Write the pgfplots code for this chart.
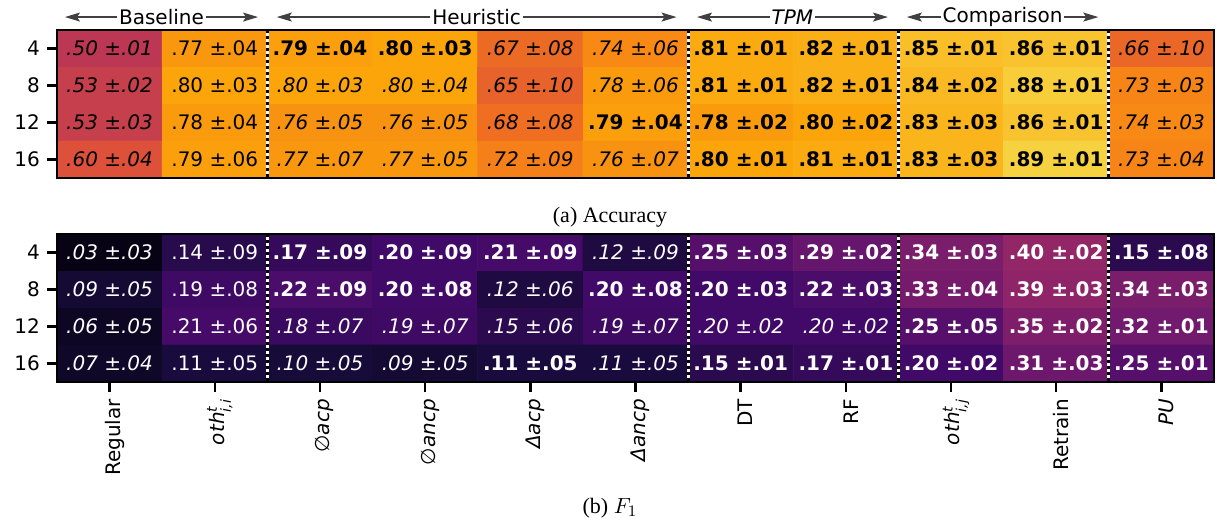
\documentclass[border=0pt]{standalone}
\usepackage{pgfplots}
\pgfplotsset{compat=1.18}
\usepackage{fontspec}
\setmainfont{DejaVu Sans}
\newfontfamily\capfont{Liberation Serif}
\usetikzlibrary{arrows.meta}

\newcommand{\cb}[2]{\textbf{#1 ±#2}}
\newcommand{\ci}[2]{\textit{#1 ±#2}}
\newcommand{\cn}[2]{#1 ±#2}

\tikzset{hdr/.style={{Stealth[length=7.5pt,width=4.5pt,inset=1.5pt]}-{Stealth[length=7.5pt,width=4.5pt,inset=1.5pt]},
    draw=black!75, line width=0.6pt}}

\pgfplotsset{
  colormap={inferno}{rgb255(0cm)=(0,0,4) rgb255(1cm)=(22,11,57) rgb255(2cm)=(66,10,104)
    rgb255(3cm)=(106,23,110) rgb255(4cm)=(147,38,103) rgb255(5cm)=(188,55,84)
    rgb255(6cm)=(221,81,58) rgb255(7cm)=(243,118,27) rgb255(8cm)=(252,165,10)
    rgb255(9cm)=(246,215,70) rgb255(10cm)=(252,255,164)},
  hm/.style={
    scale only axis, width=578.5pt, height=74pt,
    xmin=-0.5, xmax=10.5, ymin=-0.5, ymax=3.5, y dir=reverse,
    enlargelimits=false, axis on top, clip=false,
    colormap name=inferno, point meta min=0, point meta max=1,
    axis line style={line width=1.3pt},
    ytick={0,1,2,3}, yticklabels={4,8,12,16},
    tick align=outside, major tick length=5pt,
    tick style={line width=1.2pt, black},
    ytick pos=left, xtick pos=bottom,
    ticklabel style={font=\fontsize{10}{12}\selectfont},
  },
  cellsbase/.style={draw=none, mark=none, point meta=explicit symbolic, nodes near coords,
    nodes near coords style={anchor=center, inner sep=0pt, font=\fontsize{10}{12}\selectfont}},
}

\begin{document}
\begin{tikzpicture}
\useasboundingbox (-28.5pt,15pt) rectangle (580pt,-245.5pt);

% ---------------- Accuracy ----------------
\begin{axis}[hm, at={(0,0)}, anchor=north west, xtick=\empty]
\addplot[matrix plot*, mesh/cols=11, point meta=explicit] coordinates {
(0,0) [0.50] (1,0) [0.77] (2,0) [0.79] (3,0) [0.80] (4,0) [0.67] (5,0) [0.74] (6,0) [0.81] (7,0) [0.82] (8,0) [0.85] (9,0) [0.86] (10,0) [0.66]

(0,1) [0.53] (1,1) [0.80] (2,1) [0.80] (3,1) [0.80] (4,1) [0.65] (5,1) [0.78] (6,1) [0.81] (7,1) [0.82] (8,1) [0.84] (9,1) [0.88] (10,1) [0.73]

(0,2) [0.53] (1,2) [0.78] (2,2) [0.76] (3,2) [0.76] (4,2) [0.68] (5,2) [0.79] (6,2) [0.78] (7,2) [0.80] (8,2) [0.83] (9,2) [0.86] (10,2) [0.74]

(0,3) [0.60] (1,3) [0.79] (2,3) [0.77] (3,3) [0.77] (4,3) [0.72] (5,3) [0.76] (6,3) [0.80] (7,3) [0.81] (8,3) [0.83] (9,3) [0.89] (10,3) [0.73]
};
\pgfplotsinvokeforeach{1.5,5.5,7.5,9.5}{
  \draw[white, line width=1.5pt] (axis cs:#1,-0.5) -- (axis cs:#1,3.5);
  \draw[black, line width=1.5pt, dash pattern=on 1.5pt off 1.5pt] (axis cs:#1,-0.5) -- (axis cs:#1,3.5);
}
\addplot[cellsbase, nodes near coords style={text=black}] coordinates {
(0,0)[\ci{.50}{.01}] (1,0)[\cn{.77}{.04}] (2,0)[\cb{.79}{.04}] (3,0)[\cb{.80}{.03}] (4,0)[\ci{.67}{.08}] (5,0)[\ci{.74}{.06}] (6,0)[\cb{.81}{.01}] (7,0)[\cb{.82}{.01}] (8,0)[\cb{.85}{.01}] (9,0)[\cb{.86}{.01}] (10,0)[\ci{.66}{.10}]
(0,1)[\ci{.53}{.02}] (1,1)[\cn{.80}{.03}] (2,1)[\ci{.80}{.03}] (3,1)[\ci{.80}{.04}] (4,1)[\ci{.65}{.10}] (5,1)[\ci{.78}{.06}] (6,1)[\cb{.81}{.01}] (7,1)[\cb{.82}{.01}] (8,1)[\cb{.84}{.02}] (9,1)[\cb{.88}{.01}] (10,1)[\ci{.73}{.03}]
(0,2)[\ci{.53}{.03}] (1,2)[\cn{.78}{.04}] (2,2)[\ci{.76}{.05}] (3,2)[\ci{.76}{.05}] (4,2)[\ci{.68}{.08}] (5,2)[\cb{.79}{.04}] (6,2)[\cb{.78}{.02}] (7,2)[\cb{.80}{.02}] (8,2)[\cb{.83}{.03}] (9,2)[\cb{.86}{.01}] (10,2)[\ci{.74}{.03}]
(0,3)[\ci{.60}{.04}] (1,3)[\cn{.79}{.06}] (2,3)[\ci{.77}{.07}] (3,3)[\ci{.77}{.05}] (4,3)[\ci{.72}{.09}] (5,3)[\ci{.76}{.07}] (6,3)[\cb{.80}{.01}] (7,3)[\cb{.81}{.01}] (8,3)[\cb{.83}{.03}] (9,3)[\cb{.89}{.01}] (10,3)[\ci{.73}{.04}]
};
\draw[hdr] (axis cs:-0.424,-0.85) -- node[fill=white, inner sep=1pt, font=\fontsize{10}{12}\selectfont]{Baseline} (axis cs:1.411,-0.85);
\draw[hdr] (axis cs:1.59,-0.85) -- node[fill=white, inner sep=1pt, font=\fontsize{10}{12}\selectfont]{Heuristic} (axis cs:5.39,-0.85);
\draw[hdr] (axis cs:5.585,-0.85) -- node[fill=white, inner sep=1pt, font=\fontsize{10}{12}\selectfont\itshape]{TPM} (axis cs:7.40,-0.85);
\draw[hdr] (axis cs:7.58,-0.85) -- node[fill=white, inner sep=1pt, font=\fontsize{10}{12}\selectfont]{Comparison} (axis cs:9.40,-0.85);
\end{axis}

% ---------------- F1 ----------------
\begin{axis}[hm, at={(0,-102pt)}, anchor=north west,
  xtick={0,...,10},
  xticklabels={Regular,
    {\itshape oth$^{\mbox{\scriptsize\itshape t}}_{\mbox{\scriptsize\itshape i,i}}$},
    {\itshape ∅acp}, {\itshape ∅ancp}, {\itshape Δacp}, {\itshape Δancp},
    DT, RF,
    {\itshape oth$^{\mbox{\scriptsize\itshape t}}_{\mbox{\scriptsize\itshape i,j}}$},
    Retrain, {\itshape PU}},
  xticklabel style={rotate=90, anchor=east, yshift=-2.5pt}]
\addplot[matrix plot*, mesh/cols=11, point meta=explicit] coordinates {
(0,0) [0.03] (1,0) [0.14] (2,0) [0.17] (3,0) [0.20] (4,0) [0.21] (5,0) [0.12] (6,0) [0.25] (7,0) [0.29] (8,0) [0.34] (9,0) [0.40] (10,0) [0.15]

(0,1) [0.09] (1,1) [0.19] (2,1) [0.22] (3,1) [0.20] (4,1) [0.12] (5,1) [0.20] (6,1) [0.20] (7,1) [0.22] (8,1) [0.33] (9,1) [0.39] (10,1) [0.34]

(0,2) [0.06] (1,2) [0.21] (2,2) [0.18] (3,2) [0.19] (4,2) [0.15] (5,2) [0.19] (6,2) [0.20] (7,2) [0.20] (8,2) [0.25] (9,2) [0.35] (10,2) [0.32]

(0,3) [0.07] (1,3) [0.11] (2,3) [0.10] (3,3) [0.09] (4,3) [0.11] (5,3) [0.11] (6,3) [0.15] (7,3) [0.17] (8,3) [0.20] (9,3) [0.31] (10,3) [0.25]
};
\pgfplotsinvokeforeach{1.5,5.5,7.5,9.5}{
  \draw[white, line width=1.5pt] (axis cs:#1,-0.5) -- (axis cs:#1,3.5);
  \draw[black, line width=1.5pt, dash pattern=on 1.5pt off 1.5pt] (axis cs:#1,-0.5) -- (axis cs:#1,3.5);
}
\addplot[cellsbase, nodes near coords style={text=white}] coordinates {
(0,0)[\ci{.03}{.03}] (1,0)[\cn{.14}{.09}] (2,0)[\cb{.17}{.09}] (3,0)[\cb{.20}{.09}] (4,0)[\cb{.21}{.09}] (5,0)[\ci{.12}{.09}] (6,0)[\cb{.25}{.03}] (7,0)[\cb{.29}{.02}] (8,0)[\cb{.34}{.03}] (9,0)[\cb{.40}{.02}] (10,0)[\cb{.15}{.08}]
(0,1)[\ci{.09}{.05}] (1,1)[\cn{.19}{.08}] (2,1)[\cb{.22}{.09}] (3,1)[\cb{.20}{.08}] (4,1)[\ci{.12}{.06}] (5,1)[\cb{.20}{.08}] (6,1)[\cb{.20}{.03}] (7,1)[\cb{.22}{.03}] (8,1)[\cb{.33}{.04}] (9,1)[\cb{.39}{.03}] (10,1)[\cb{.34}{.03}]
(0,2)[\ci{.06}{.05}] (1,2)[\cn{.21}{.06}] (2,2)[\ci{.18}{.07}] (3,2)[\ci{.19}{.07}] (4,2)[\ci{.15}{.06}] (5,2)[\ci{.19}{.07}] (6,2)[\ci{.20}{.02}] (7,2)[\ci{.20}{.02}] (8,2)[\cb{.25}{.05}] (9,2)[\cb{.35}{.02}] (10,2)[\cb{.32}{.01}]
(0,3)[\ci{.07}{.04}] (1,3)[\cn{.11}{.05}] (2,3)[\ci{.10}{.05}] (3,3)[\ci{.09}{.05}] (4,3)[\cb{.11}{.05}] (5,3)[\ci{.11}{.05}] (6,3)[\cb{.15}{.01}] (7,3)[\cb{.17}{.01}] (8,3)[\cb{.20}{.02}] (9,3)[\cb{.31}{.03}] (10,3)[\cb{.25}{.01}]
};
\end{axis}

\node[font=\capfont\fontsize{11}{13}\selectfont] at (276.5pt,-93.5pt) {(a) Accuracy};
\node[font=\capfont\fontsize{11}{13}\selectfont] at (276.5pt,-239pt) {(b) $F_1$};
\end{tikzpicture}
\end{document}
